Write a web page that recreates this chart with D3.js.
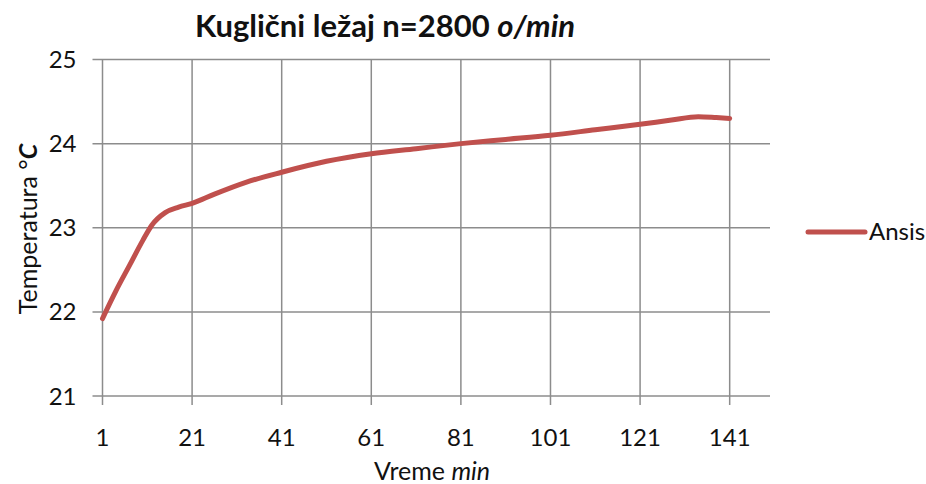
<!DOCTYPE html>
<html>
<head>
<meta charset="utf-8">
<script src="https://cdn.jsdelivr.net/npm/d3@7"></script>
<style>
  body { margin: 0; background: #fff; }
  text { font-family: Lato, "Open Sans", sans-serif; fill: #111; }
</style>
</head>
<body>
<div id="chart"></div>
<script>
// minutes and temperature readings
var minutes = [1, 4, 7, 10, 12, 15, 18, 21, 26, 33, 41, 51, 61, 71, 81, 91, 101, 111, 121, 128, 134, 138, 141];
var temps = [21.92, 22.25, 22.55, 22.85, 23.03, 23.18, 23.245, 23.29, 23.40, 23.54, 23.66, 23.79, 23.88, 23.94, 24.0, 24.05, 24.10, 24.165, 24.23, 24.28, 24.32, 24.31, 24.30];
var xTicks = [1, 21, 41, 61, 81, 101, 121, 141];
var yTicks = [21, 22, 23, 24, 25];
var seriesName = "Ansis";

var width = 926, height = 484;
var margin = { top: 59.5, right: 156, bottom: 88, left: 102.5 },
    plotWidth = width - margin.left - margin.right,
    plotHeight = height - margin.top - margin.bottom;

var data = minutes.map(function (m, i) { return { m: m, t: temps[i] }; });

var svg = d3.select("#chart").append("svg")
    .attr("width", width)
    .attr("height", height);

var g = svg.append("g")
    .attr("transform", "translate(" + margin.left + "," + margin.top + ")");

var x = d3.scaleLinear()
    .domain([1, 150])
    .range([0, plotWidth]);

var y = d3.scaleLinear()
    .domain([21, 25])
    .range([plotHeight, 0]);

// horizontal gridlines, with the little tick stub on the left
g.selectAll("line.hgrid")
    .data(yTicks)
    .enter().append("line")
    .attr("class", "hgrid")
    .attr("x1", -10)
    .attr("x2", plotWidth)
    .attr("y1", function (d) { return y(d); })
    .attr("y2", function (d) { return y(d); })
    .attr("stroke", "#8c8c8c")
    .attr("stroke-width", 1.5);

// vertical gridlines, running down into the tick marks
g.selectAll("line.vgrid")
    .data(xTicks)
    .enter().append("line")
    .attr("class", "vgrid")
    .attr("x1", function (d) { return x(d); })
    .attr("x2", function (d) { return x(d); })
    .attr("y1", 0)
    .attr("y2", plotHeight + 9)
    .attr("stroke", "#8c8c8c")
    .attr("stroke-width", 1.5);

// y tick labels
g.selectAll("text.ylab")
    .data(yTicks)
    .enter().append("text")
    .attr("class", "ylab")
    .attr("x", -26)
    .attr("y", function (d) { return y(d) + 8.5; })
    .style("text-anchor", "end")
    .style("font-size", "24px")
    .text(function (d) { return d; });

// x tick labels
g.selectAll("text.xlab")
    .data(xTicks)
    .enter().append("text")
    .attr("class", "xlab")
    .attr("x", function (d) { return x(d); })
    .attr("y", plotHeight + 50)
    .style("text-anchor", "middle")
    .style("font-size", "24px")
    .text(function (d) { return d; });

// the series
var line = d3.line()
    .x(function (d) { return x(d.m); })
    .y(function (d) { return y(d.t); })
    .curve(d3.curveMonotoneX);

g.append("path")
    .datum(data)
    .attr("fill", "none")
    .attr("stroke", "#c0504d")
    .attr("stroke-width", 5)
    .attr("stroke-linecap", "round")
    .attr("stroke-linejoin", "round")
    .attr("d", line);

// title
var title = svg.append("text")
    .attr("x", 385)
    .attr("y", 37)
    .style("text-anchor", "middle")
    .style("font-size", "31px")
    .style("font-weight", "bold");
title.append("tspan").text("Kuglični ležaj n=2800 ");
title.append("tspan").style("font-style", "italic").text("o/min");

// x axis title
var xTitle = svg.append("text")
    .attr("x", 432)
    .attr("y", 480)
    .style("text-anchor", "middle")
    .style("font-size", "25px");
xTitle.append("tspan").text("Vreme ");
xTitle.append("tspan").style("font-style", "italic").text("min");

// y axis title
var yTitle = svg.append("text")
    .attr("transform", "translate(37,229) rotate(-90)")
    .style("text-anchor", "middle")
    .style("font-size", "25px");
yTitle.append("tspan").text("Temperatura °");
yTitle.append("tspan").style("font-style", "italic").style("font-weight", "bold").text("C");

// legend
var legend = svg.append("g")
    .attr("transform", "translate(808,232)");
legend.append("line")
    .attr("x1", 0).attr("x2", 57)
    .attr("y1", 0).attr("y2", 0)
    .attr("stroke", "#c0504d")
    .attr("stroke-width", 5)
    .attr("stroke-linecap", "round");
legend.append("text")
    .attr("x", 61)
    .attr("y", 8)
    .style("font-size", "24px")
    .text(seriesName);
</script>
</body>
</html>
